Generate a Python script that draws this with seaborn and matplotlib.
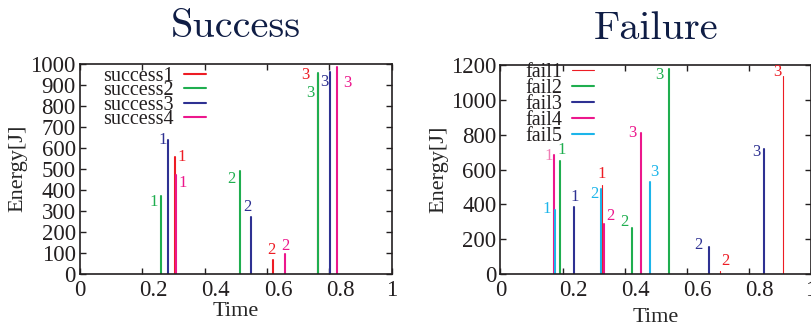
import pandas as pd
import matplotlib
matplotlib.use("Agg")
import matplotlib.pyplot as plt
import matplotlib.transforms as mtransforms
import seaborn as sns

# ---- data ----
trial_labels = ['1', '2', '3']

success_names = ['success1', 'success2', 'success3', 'success4']
success_time = [[0.306, 0.620, 0.764],
                [0.259, 0.515, 0.765],
                [0.281, 0.548, 0.802],
                [0.308, 0.658, 0.824]]
success_energy = [[555, 65, 950],
                  [370, 490, 955],
                  [635, 270, 960],
                  [470, 95, 985]]

fail_names = ['fail1', 'fail2', 'fail3', 'fail4', 'fail5']
fail_time = [[0.327, 0.706, 0.909],
             [0.191, 0.425, 0.542],
             [0.237, 0.670, 0.850],
             [0.171, 0.334, 0.454],
             [0.174, 0.325, 0.483]]
fail_energy = [[510, 20, 1140],
               [650, 265, 1180],
               [385, 155, 720],
               [685, 290, 810],
               [370, 490, 530]]

# ---- styling ----
red, green, blue, pink, cyan = '#ed1c24', '#1fae4f', '#2e3192', '#ec178c', '#1cb5ea'
success_colors = [red, green, blue, pink]
fail_colors = [red, green, blue, pink, cyan]
ink = '#231f20'

# offsets (pixels) of the trial numbers from the top of each spike
success_offsets = [[(6, 0), (-2, 10), (-13, -1)],
                   [(-7, -6), (-9, -8), (-8, -20)],
                   [(-5, 0), (-3, 10), (-6, -10)],
                   [(7, -8), (0, 8), (11, -16)]]
fail_offsets = [[(0, 11), (6, 10), (-5, 4)],
                [(2, 11), (-8, 6), (-9, -6)],
                [(1, 10), (-10, 2), (-8, -3)],
                [(-5, -1), (6, 8), (-9, 0)],
                [(-8, 1), (-7, -5), (4, 10)]]


def spikes_frame(names, times, energies):
    rows = []
    for name, ts, es in zip(names, times, energies):
        for trial, t, e in zip(trial_labels, ts, es):
            rows.append({'series': name, 'trial': trial, 'time': t, 'energy': 0})
            rows.append({'series': name, 'trial': trial, 'time': t, 'energy': e})
    return pd.DataFrame(rows)


sns.set_theme(style='ticks')
plt.rcParams['font.family'] = ['Liberation Serif', 'DejaVu Serif']
plt.rcParams['text.color'] = ink
plt.rcParams['axes.edgecolor'] = ink
plt.rcParams['xtick.color'] = ink
plt.rcParams['ytick.color'] = ink

fig = plt.figure(figsize=(8.11, 3.27), dpi=100)
ax1 = fig.add_axes([0.0986, 0.162, 0.3843, 0.6437])
ax2 = fig.add_axes([0.6171, 0.162, 0.3829, 0.639])

success_df = spikes_frame(success_names, success_time, success_energy)
fail_df = spikes_frame(fail_names, fail_time, fail_energy)

sns.lineplot(data=success_df, x='time', y='energy', hue='series', units='trial',
             estimator=None, sort=False, palette=success_colors, linewidth=1.5, ax=ax1)
fail_sizes = {'fail1': 0.8, 'fail2': 1.5, 'fail3': 1.5, 'fail4': 1.5, 'fail5': 1.5}
sns.lineplot(data=fail_df, x='time', y='energy', hue='series', size='series', sizes=fail_sizes,
             units='trial', estimator=None, sort=False, palette=fail_colors, ax=ax2)

# trial numbers next to each spike
for ax, names, times, energies, offsets, cols in [
        (ax1, success_names, success_time, success_energy, success_offsets, success_colors),
        (ax2, fail_names, fail_time, fail_energy, fail_offsets, fail_colors)]:
    for i in range(len(names)):
        for k in range(3):
            c = cols[i]
            if ax is ax2 and i == 3 and k == 0:
                c = '#f07cb4'
            ax.annotate(trial_labels[k], (times[i][k], energies[i][k]),
                        xytext=offsets[i][k], textcoords='offset pixels',
                        ha='center', va='center', fontsize=12, color=c)

xticks = [0, 0.2, 0.4, 0.6, 0.8, 1]
xtick_labels = ['0', '0.2', '0.4', '0.6', '0.8', '1']

for ax, ymax, ystep, title, leg_anchor, spacing, xpad in [
        (ax1, 1000, 100, 'Success', (0.074, 0.985), -0.23, 1),
        (ax2, 1200, 200, 'Failure', (0.079, 1.01), -0.15, 5)]:
    ax.set_xlim(0, 1)
    ax.set_ylim(0, ymax)
    ax.set_xticks(xticks, xtick_labels)
    ax.set_yticks(range(0, ymax + 1, ystep))
    ax.tick_params(direction='in', top=True, right=True, length=4, width=1,
                   labelsize=16.5, pad=3)
    ax.tick_params(axis='x', pad=4)
    for side in ax.spines.values():
        side.set_linewidth(1.2)
    ax.set_xlabel('Time', fontsize=16, labelpad=xpad)
    ax.set_ylabel('Energy[J]', fontsize=16, labelpad=2)
    ax.set_title(title, fontsize=29, family='cmr10', color='#0f1d45', pad=19)

    # the decimal tick labels sit a little right of their ticks in the original
    shift = mtransforms.ScaledTranslation(0.11, 0, fig.dpi_scale_trans)
    for lbl in ax.get_xticklabels()[1:-1]:
        lbl.set_transform(lbl.get_transform() + shift)

    old = ax.get_legend()
    handles = old.legend_handles
    labels = [t.get_text() for t in old.get_texts()]
    old.remove()
    ax.legend(handles, labels, loc='upper left', bbox_to_anchor=leg_anchor,
              frameon=False, markerfirst=False, fontsize=14.5, labelspacing=spacing,
              handlelength=1.1, handletextpad=0.5, borderpad=0, borderaxespad=0)

fig.savefig('out.png', dpi=100)
